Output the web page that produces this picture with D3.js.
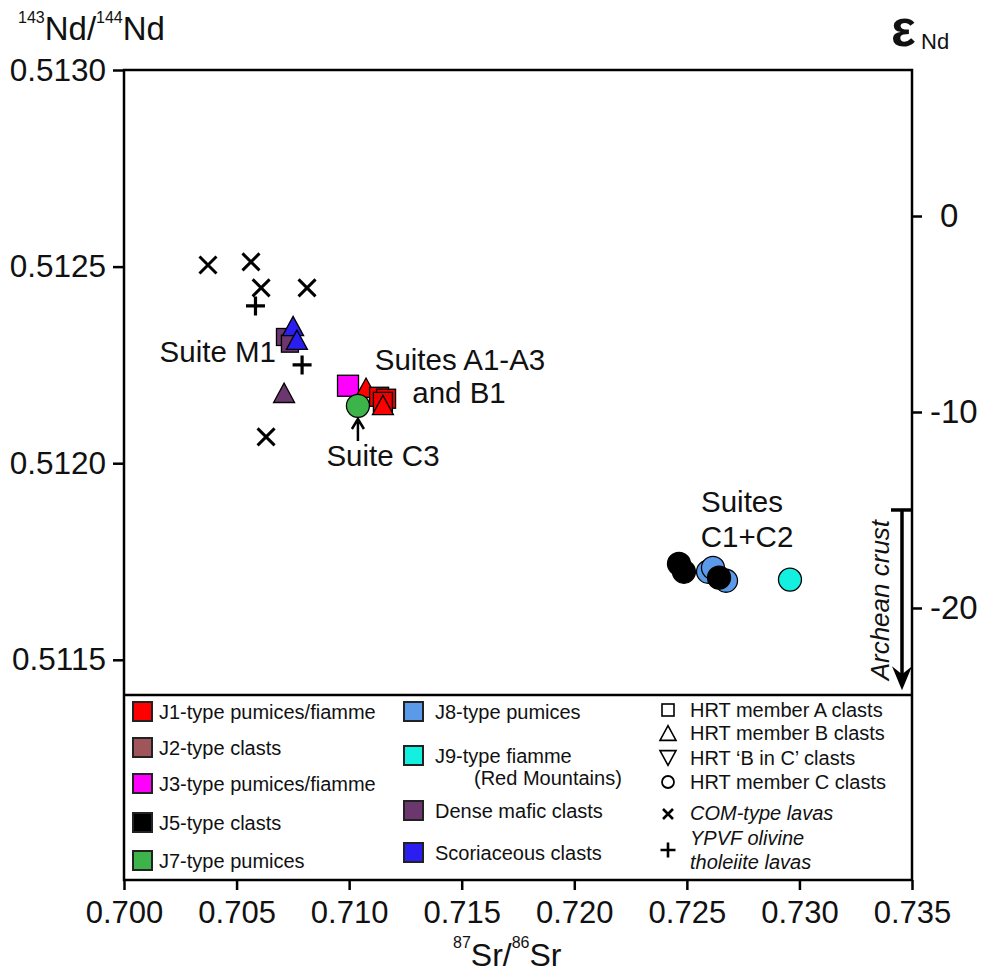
<!DOCTYPE html>
<html><head><meta charset="utf-8">
<script src="https://cdn.jsdelivr.net/npm/d3@7"></script>
<style>body{margin:0;background:#fff} svg{display:block;font-family:"Liberation Sans",Arial,sans-serif}</style>
</head><body><svg id="c" width="986" height="975"></svg>
<script>
// ---- data (87Sr/86Sr, 143Nd/144Nd) ----
const xTicks = [0.700, 0.705, 0.710, 0.715, 0.720, 0.725, 0.730, 0.735];
const yTicks = [0.5115, 0.5120, 0.5125, 0.5130];
const epsTicks = [0, -10, -20];
const archeanCrust = [-15, -24.2];

const j1MemberA = [[0.71133, 0.512169], [0.71164, 0.512164], [0.71150, 0.512156]];
const j1MemberB = [[0.71075, 0.512192], [0.71150, 0.512148]];
const j3MemberA = [[0.70995, 0.512197]];
const j7MemberC = [[0.71039, 0.512146]];
const j5MemberC = [[0.72465, 0.511744], [0.72487, 0.511724], [0.72643, 0.511709]];
const j8MemberC = [[0.72594, 0.511724], [0.72616, 0.511734], [0.72674, 0.511701]];
const j9MemberC = [[0.72958, 0.511704]];
const denseMaficA = [[0.70715, 0.512321], [0.70737, 0.512304]];
const denseMaficB = [[0.70711, 0.512179]];
const scoriaceousB = [[0.70751, 0.512349], [0.70768, 0.512314]];
const comLavas = [[0.70373, 0.512504], [0.70564, 0.512512], [0.70609, 0.512446], [0.70813, 0.512446], [0.70631, 0.512067]];
const ypvfLavas = [[0.70584, 0.512400], [0.70791, 0.512250]];

const colorLegend1 = [["J1-type pumices/fiamme", "#ff0000"], ["J2-type clasts", "#a0555a"], ["J3-type pumices/fiamme", "#ff00ff"], ["J5-type clasts", "#000000"], ["J7-type pumices", "#3cb44a"]];
const colorLegend2 = [["J8-type pumices", "#5b9ae8"], ["J9-type fiamme", "#14f0e0"], ["Dense mafic clasts", "#6b376e"], ["Scoriaceous clasts", "#2a1ff0"]];
const symbolLegend = ["HRT member A clasts", "HRT member B clasts", "HRT \u2018B in C\u2019 clasts", "HRT member C clasts", "COM-type lavas", "YPVF olivine", "tholeiite lavas"];

// ---- setup ----
const svg = d3.select("#c");
const L = 124, R = 912, T = 70, B = 880;
const x = d3.scaleLinear().domain([0.700, 0.735]).range([L, R]);
const y = d3.scaleLinear().domain([0.51094, 0.5130]).range([B, T]);
const eps = d3.scaleLinear().domain([-33.88, 7.45]).range([B, T]);

function marker(g, type, cx, cy, fill, s, sw) {
  sw = sw || 1.3;
  if (type === "square") {
    g.append("rect").attr("x", cx - s / 2).attr("y", cy - s / 2).attr("width", s).attr("height", s)
      .attr("fill", fill).attr("stroke", "#000").attr("stroke-width", sw);
  } else if (type === "tri") {
    const h = s * 0.92;
    g.append("path").attr("d", `M${cx},${cy - h / 2}L${cx + s / 2},${cy + h / 2}L${cx - s / 2},${cy + h / 2}Z`)
      .attr("fill", fill).attr("stroke", "#000").attr("stroke-width", sw).attr("stroke-linejoin", "miter");
  } else if (type === "tridown") {
    const h = s * 0.92;
    g.append("path").attr("d", `M${cx},${cy + h / 2}L${cx + s / 2},${cy - h / 2}L${cx - s / 2},${cy - h / 2}Z`)
      .attr("fill", fill).attr("stroke", "#000").attr("stroke-width", sw);
  } else if (type === "circle") {
    g.append("circle").attr("cx", cx).attr("cy", cy).attr("r", s / 2)
      .attr("fill", fill).attr("stroke", "#000").attr("stroke-width", sw);
  } else if (type === "cross") {
    const h = s / 2;
    g.append("path").attr("d", `M${cx - h},${cy - h}L${cx + h},${cy + h}M${cx - h},${cy + h}L${cx + h},${cy - h}`)
      .attr("stroke", "#000").attr("stroke-width", sw).attr("fill", "none");
  } else if (type === "plus") {
    const h = s / 2;
    g.append("path").attr("d", `M${cx - h},${cy}L${cx + h},${cy}M${cx},${cy - h}L${cx},${cy + h}`)
      .attr("stroke", "#000").attr("stroke-width", sw).attr("fill", "none");
  }
}

// ---- axes ----
const fmtX = d3.format(".3f"), fmtY = d3.format(".4f");
const gx = svg.append("g").attr("transform", `translate(0,${B})`)
  .call(d3.axisBottom(x).tickValues(xTicks).tickFormat(fmtX).tickSize(10).tickPadding(11));
const gy = svg.append("g").attr("transform", `translate(${L},0)`)
  .call(d3.axisLeft(y).tickValues(yTicks).tickFormat(fmtY).tickSize(11).tickPadding(7));
const ge = svg.append("g").attr("transform", `translate(${R},0)`)
  .call(d3.axisRight(eps).tickValues(epsTicks).tickFormat(d => d < 0 ? "-" + Math.abs(d) : String(d)).tickSize(10).tickPadding(8));
[gx, gy, ge].forEach(g => {
  g.select(".domain").remove();
  g.selectAll(".tick line").attr("stroke", "#000").attr("stroke-width", 2.5);
  g.selectAll(".tick text").attr("fill", "#111").attr("font-family", "Liberation Sans, Arial, sans-serif");
});
gx.selectAll(".tick text").attr("font-size", 31);
gy.selectAll(".tick text").attr("font-size", 31.5);
ge.selectAll(".tick text").attr("font-size", 33);
ge.selectAll(".tick text").filter(d => d === 0).attr("dx", 10);

// frame + legend separator
svg.append("rect").attr("x", L).attr("y", T).attr("width", R - L).attr("height", B - T)
  .attr("fill", "none").attr("stroke", "#000").attr("stroke-width", 2.5);
svg.append("line").attr("x1", L).attr("x2", R).attr("y1", 695).attr("y2", 695)
  .attr("stroke", "#000").attr("stroke-width", 2.5);

// ---- titles ----
const lt = svg.append("text").attr("x", 18).attr("y", 40).attr("fill", "#111");
lt.append("tspan").attr("font-size", 16).attr("dy", -17).text("143");
lt.append("tspan").attr("font-size", 33).attr("dy", 17).text("Nd/");
lt.append("tspan").attr("font-size", 16).attr("dy", -17).text("144");
lt.append("tspan").attr("font-size", 33).attr("dy", 17).text("Nd");

const xt = svg.append("text").attr("x", 453).attr("y", 966).attr("fill", "#111");
xt.append("tspan").attr("font-size", 16).attr("dy", -18).text("87");
xt.append("tspan").attr("font-size", 32).attr("dy", 18).text("Sr/");
xt.append("tspan").attr("font-size", 16).attr("dy", -18).text("86");
xt.append("tspan").attr("font-size", 32).attr("dy", 18).text("Sr");

svg.append("text").attr("x", 891).attr("y", 46).attr("font-size", 52).attr("font-weight", "bold").attr("fill", "#111").text("\u03b5");
svg.append("text").attr("x", 921).attr("y", 49).attr("font-size", 22).attr("fill", "#111").text("Nd");

// ---- data points ----
const gp = svg.append("g");
const S = 19, TS = 21, C = 23;
denseMaficA.forEach(d => marker(gp, "square", x(d[0]), y(d[1]), "#6b376e", 17));
denseMaficB.forEach(d => marker(gp, "tri", x(d[0]), y(d[1]), "#6b376e", TS));
scoriaceousB.forEach(d => marker(gp, "tri", x(d[0]), y(d[1]), "#2a1ff0", TS));
j3MemberA.forEach(d => marker(gp, "square", x(d[0]), y(d[1]), "#ff00ff", 21));
j1MemberB.slice(0, 1).forEach(d => marker(gp, "tri", x(d[0]), y(d[1]), "#ff0000", TS));
j1MemberA.forEach(d => marker(gp, "square", x(d[0]), y(d[1]), "#ee0000", S));
j1MemberB.slice(1).forEach(d => marker(gp, "tri", x(d[0]), y(d[1]), "#ff0000", TS));
j7MemberC.forEach(d => marker(gp, "circle", x(d[0]), y(d[1]), "#3cb44a", C));
j8MemberC.forEach(d => marker(gp, "circle", x(d[0]), y(d[1]), "#5b9ae8", C));
j5MemberC.forEach(d => marker(gp, "circle", x(d[0]), y(d[1]), "#000000", C));
j9MemberC.forEach(d => marker(gp, "circle", x(d[0]), y(d[1]), "#14f0e0", C));
comLavas.forEach(d => marker(gp, "cross", x(d[0]), y(d[1]), null, 17, 3));
ypvfLavas.forEach(d => marker(gp, "plus", x(d[0]), y(d[1]), null, 19, 3.2));

// ---- annotations ----
const ann = svg.append("g").attr("font-size", 29.5).attr("fill", "#111");
ann.append("text").attr("x", 276).attr("y", 362).attr("text-anchor", "end").text("Suite M1");
ann.append("text").attr("x", 460).attr("y", 370).attr("text-anchor", "middle").text("Suites A1-A3");
ann.append("text").attr("x", 459).attr("y", 403).attr("text-anchor", "middle").text("and B1");
ann.append("text").attr("x", 383).attr("y", 466).attr("text-anchor", "middle").text("Suite C3");
ann.append("text").attr("x", 742).attr("y", 512).attr("text-anchor", "middle").text("Suites");
ann.append("text").attr("x", 747).attr("y", 547).attr("text-anchor", "middle").text("C1+C2");

// arrow to Suite C3
const ax = x(j7MemberC[0][0]);
svg.append("path").attr("d", `M${ax},441L${ax},420M${ax - 6},429L${ax},419L${ax + 6},429`)
  .attr("stroke", "#000").attr("stroke-width", 2.5).attr("fill", "none");

// Archean crust arrow
const ac = svg.append("g");
const y0 = eps(archeanCrust[0]), y1 = eps(archeanCrust[1]);
ac.append("line").attr("x1", 891).attr("x2", 913).attr("y1", y0).attr("y2", y0).attr("stroke", "#000").attr("stroke-width", 3.5);
ac.append("line").attr("x1", 902).attr("x2", 902).attr("y1", y0).attr("y2", y1 - 14).attr("stroke", "#000").attr("stroke-width", 3.5);
ac.append("path").attr("d", `M902,${y1}L892,${y1 - 24}L902,${y1 - 16}L912,${y1 - 24}Z`).attr("fill", "#000");
ac.append("text").attr("transform", `translate(889,${(y0 + y1) / 2}) rotate(-90)`).attr("text-anchor", "middle")
  .attr("font-size", 26).attr("font-style", "italic").attr("fill", "#111").text("Archean crust");

// ---- legend ----
const lg = svg.append("g").attr("font-size", 20).attr("fill", "#111");
const rows1 = [712, 748, 784, 823, 861];
colorLegend1.forEach((d, i) => {
  lg.append("rect").attr("x", 133).attr("y", rows1[i] - 10).attr("width", 19).attr("height", 19)
    .attr("fill", d[1]).attr("stroke", "#222").attr("stroke-width", 2);
  lg.append("text").attr("x", 159).attr("y", rows1[i] + 7).text(d[0]);
});
const rows2 = [712, 756, 811, 853];
colorLegend2.forEach((d, i) => {
  lg.append("rect").attr("x", 404).attr("y", rows2[i] - 10).attr("width", 19).attr("height", 19)
    .attr("fill", d[1]).attr("stroke", "#222").attr("stroke-width", 2);
  lg.append("text").attr("x", 435).attr("y", rows2[i] + 7).text(d[0]);
});
lg.append("text").attr("x", 474).attr("y", 785).text("(Red Mountains)");

const rows3 = [710, 733, 758, 782, 813, 838, 862];
const sx = 668;
marker(lg, "square", sx, rows3[0], "#fff", 12, 1.6);
marker(lg, "tri", sx, rows3[1], "#fff", 16, 1.6);
marker(lg, "tridown", sx, rows3[2], "#fff", 16, 1.6);
marker(lg, "circle", sx, rows3[3], "#fff", 12, 1.8);
marker(lg, "cross", sx, rows3[4] + 1, null, 10, 2.6);
marker(lg, "plus", sx, 850, null, 15, 2.6);
symbolLegend.forEach((t, i) => {
  lg.append("text").attr("x", 690).attr("y", rows3[i] + 7)
    .attr("font-style", i >= 4 ? "italic" : "normal").text(t);
});
</script></body></html>
